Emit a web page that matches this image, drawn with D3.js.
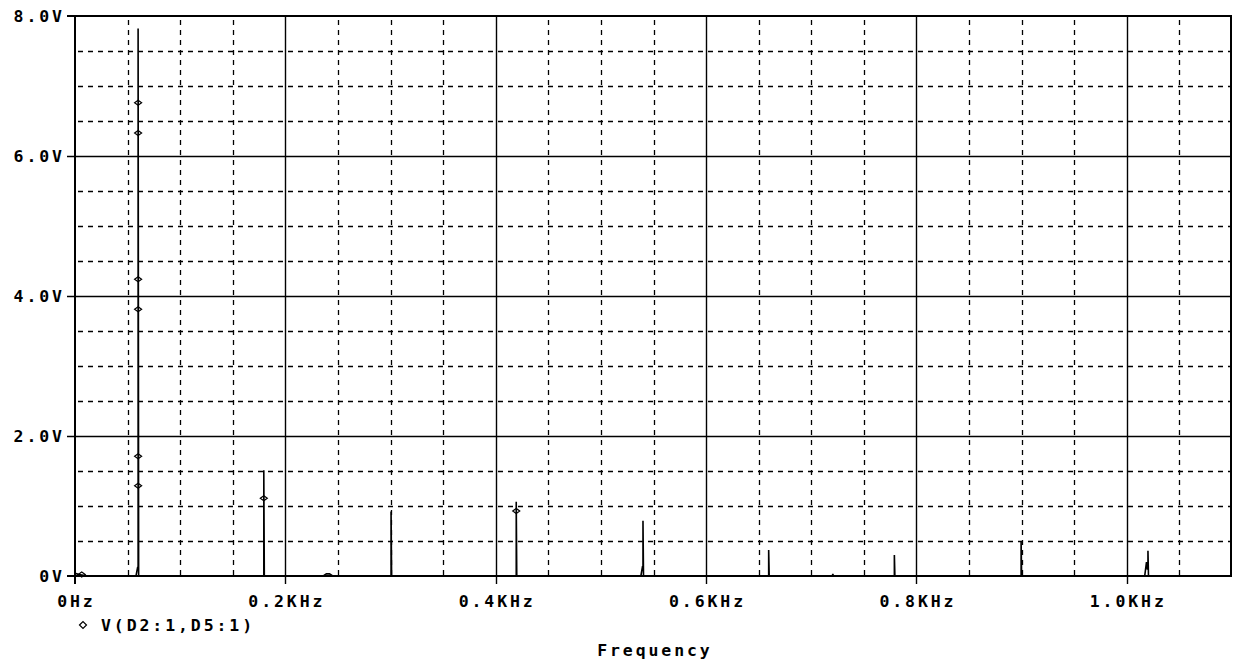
<!DOCTYPE html>
<html>
<head>
<meta charset="utf-8">
<script src="https://cdn.jsdelivr.net/npm/d3@7/dist/d3.min.js"></script>
<style>
  html, body { margin: 0; padding: 0; background: #fff; }
  svg { display: block; }
  text { font-family: "DejaVu Sans Mono", "Liberation Mono", monospace; font-weight: bold; font-size: 16.5px; fill: #000; letter-spacing: 2.9px; }
</style>
</head>
<body>
<svg id="chart" width="1233" height="667"></svg>
<script>
// ---------- data (frequency in kHz, magnitude in volts) ----------
const traceFreq = [0, 0.004, 0.008, 0.012,
  0.058, 0.0595, 0.0600, 0.0600, 0.0605,
  0.178, 0.1795, 0.1795, 0.1800,
  0.236, 0.239, 0.242, 0.245,
  0.299, 0.3005, 0.3005, 0.3010,
  0.418, 0.4195, 0.4195, 0.4200,
  0.538, 0.5395, 0.5400, 0.5400, 0.5405,
  0.659, 0.6595, 0.6595, 0.6600,
  0.720, 0.7205, 0.7210,
  0.778, 0.7790, 0.7790, 0.7795,
  0.898, 0.8995, 0.8995, 0.9000,
  1.017, 1.0187, 1.0195, 1.0201, 1.0201, 1.0206,
  1.1];
const traceVolts = [0.04, 0.02, 0.01, 0,
  0, 0.12, 0.12, 7.82, 0,
  0, 0, 1.51, 0,
  0, 0.03, 0.03, 0,
  0, 0, 0.92, 0,
  0, 0, 1.06, 0,
  0, 0.13, 0.13, 0.79, 0,
  0, 0, 0.37, 0,
  0, 0.03, 0,
  0, 0, 0.30, 0,
  0, 0, 0.49, 0,
  0, 0.20, 0.10, 0.10, 0.36, 0,
  0];
const markerFreq  = [0.0064, 0.0600, 0.0600, 0.0600, 0.0600, 0.0600, 0.0600, 0.1795, 0.4195];
const markerVolts = [0.02,   6.76,   6.33,   4.24,   3.81,   1.71,   1.29,   1.11,   0.93];

const xMajorTicks = [0, 0.2, 0.4, 0.6, 0.8, 1.0];
const xTickLabels = ["0Hz", "0.2KHz", "0.4KHz", "0.6KHz", "0.8KHz", "1.0KHz"];
const yMajorTicks = [0, 2, 4, 6, 8];
const yTickLabels = ["0V", "2.0V", "4.0V", "6.0V", "8.0V"];
const xMinorTicks = [0.05, 0.1, 0.15, 0.25, 0.3, 0.35, 0.45, 0.5, 0.55, 0.65, 0.7, 0.75, 0.85, 0.9, 0.95, 1.05];
const yMinorTicks = [0.5, 1, 1.5, 2.5, 3, 3.5, 4.5, 5, 5.5, 6.5, 7, 7.5];
const legendLabel = "V(D2:1,D5:1)";
const xTitle = "Frequency";

// ---------- layout ----------
const L = 75, R = 1232, T = 16, B = 576;
const LS = 2.9;
const svg = d3.select("#chart");
const x = d3.scaleLinear().domain([0, 1.1]).range([L, R]);
const y = d3.scaleLinear().domain([0, 8]).range([B, T]);
const px = v => Math.round(v) + 0.5;

// minor dashed grid
const g = svg.append("g");
g.selectAll("line.vmin").data(xMinorTicks).join("line")
  .attr("x1", d => px(x(d))).attr("x2", d => px(x(d)))
  .attr("y1", T + 4).attr("y2", B)
  .attr("stroke", "#000").attr("stroke-width", 1.3).attr("stroke-dasharray", "5,5");
g.selectAll("line.hmin").data(yMinorTicks).join("line")
  .attr("y1", d => px(y(d))).attr("y2", d => px(y(d)))
  .attr("x1", L + 3).attr("x2", R)
  .attr("stroke", "#000").attr("stroke-width", 1.3).attr("stroke-dasharray", "5,5");

// major solid grid
g.selectAll("line.vmaj").data(xMajorTicks.slice(1)).join("line")
  .attr("x1", d => px(x(d))).attr("x2", d => px(x(d)))
  .attr("y1", T).attr("y2", B + 8)
  .attr("stroke", "#000").attr("stroke-width", 1.4);
g.selectAll("line.hmaj").data(yMajorTicks.slice(1, -1)).join("line")
  .attr("y1", d => px(y(d))).attr("y2", d => px(y(d)))
  .attr("x1", L - 8).attr("x2", R)
  .attr("stroke", "#000").attr("stroke-width", 1.4);

// border
g.append("line").attr("x1", L - 8).attr("x2", R).attr("y1", T).attr("y2", T).attr("stroke", "#000").attr("stroke-width", 2);
g.append("line").attr("x1", L - 8).attr("x2", R).attr("y1", B).attr("y2", B).attr("stroke", "#000").attr("stroke-width", 2);
g.append("line").attr("x1", L).attr("x2", L).attr("y1", T).attr("y2", B + 8).attr("stroke", "#000").attr("stroke-width", 2);
g.append("line").attr("x1", R - 1).attr("x2", R - 1).attr("y1", T).attr("y2", B).attr("stroke", "#000").attr("stroke-width", 2);

// tick labels
svg.selectAll("text.xl").data(xMajorTicks).join("text")
  .attr("x", d => x(d) + LS / 2).attr("y", 607)
  .attr("text-anchor", "middle").text((d, i) => xTickLabels[i]);
svg.selectAll("text.yl").data(yMajorTicks).join("text")
  .attr("x", 62 + LS).attr("y", d => y(d) + 6)
  .attr("text-anchor", "end").text((d, i) => yTickLabels[i]);

// trace
const pts = traceFreq.map((f, i) => [f, traceVolts[i]]);
const line = d3.line().x(d => x(d[0])).y(d => y(d[1]));
svg.append("path").attr("d", line(pts)).attr("fill", "none")
  .attr("stroke", "#000").attr("stroke-width", 1.6);

// markers
const diamond = "M-3.5,0 L0,-2.5 L3.5,0 L0,2.5 Z";
svg.selectAll("path.mk").data(markerFreq).join("path")
  .attr("transform", (d, i) => `translate(${x(d)},${y(markerVolts[i])})`)
  .attr("d", diamond).attr("fill", "none").attr("stroke", "#000").attr("stroke-width", 1.2);

// legend
svg.append("path").attr("transform", "translate(83,625)")
  .attr("d", "M-3.5,0 L0,-3.5 L3.5,0 L0,3.5 Z").attr("fill", "none").attr("stroke", "#000").attr("stroke-width", 1.2);
svg.append("text").attr("x", 101).attr("y", 631).text(legendLabel);

// axis title
svg.append("text").attr("x", (L + R) / 2 + LS / 2).attr("y", 656)
  .attr("text-anchor", "middle").text(xTitle);
</script>
</body>
</html>
